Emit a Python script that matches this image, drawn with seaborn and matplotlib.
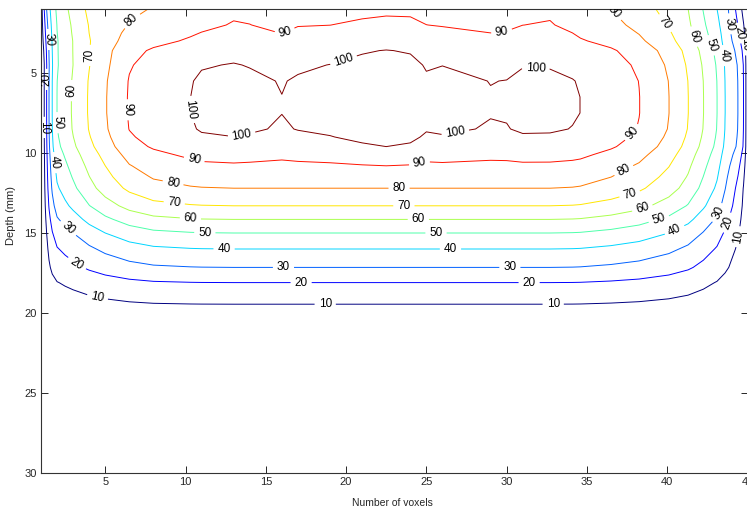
import numpy as np
import matplotlib
matplotlib.use("Agg")
import matplotlib.pyplot as plt
import seaborn as sns

voxels = [1.0, 1.2, 1.35, 1.5, 1.7, 2.0, 2.5, 3.0, 4.0, 5.0, 6.5, 8.0,
          10.3, 11.0, 13.0, 14.0, 16.0, 17.0, 19.0, 21.0, 22.5, 24.0, 25.0,
          26.0, 29.0, 30.0, 31.0, 32.7, 34.1, 34.6, 36.5, 38.25, 40.1, 41.3,
          42.25, 43.1, 43.6, 44.4, 44.75, 44.9, 45.0]

# relative lateral profile at the surface (1 mm)
lateral_surface = [0.05, 0.23, 0.345, 0.43, 0.515, 0.595, 0.668, 0.727, 0.83, 0.87, 0.90, 0.925,
                   0.96, 0.975, 1.015, 1.01, 0.979, 1.005, 1.005, 1.015, 1.02, 1.02, 1.01,
                   1.0, 0.981, 0.989, 1.007, 1.018, 0.978, 0.95, 0.92, 0.853, 0.767, 0.69,
                   0.57, 0.46, 0.40, 0.19, 0.08, 0.05, 0.03]

# relative lateral profile in the high dose region (4 - 9.6 mm)
lateral_deep = [0.03, 0.095, 0.19, 0.286, 0.382, 0.477, 0.53, 0.583, 0.676, 0.755, 0.866, 0.91,
                0.952, 0.966, 0.974, 0.968, 0.953, 0.962, 0.972, 0.99, 1.0, 0.99, 0.965,
                0.97, 0.955, 0.957, 0.968, 0.967, 0.958, 0.952, 0.91, 0.859, 0.763, 0.668,
                0.573, 0.477, 0.382, 0.286, 0.191, 0.095, 0.04]

# relative lateral profile in the fall-off region (12 mm and deeper)
lateral_tail = [0.03, 0.10, 0.20, 0.295, 0.39, 0.485, 0.545, 0.60, 0.71, 0.80, 0.90, 0.96,
                0.99, 0.995, 1.0, 1.0, 1.0, 1.0, 1.0, 1.0, 1.0, 1.0, 1.0,
                1.0, 1.0, 1.0, 1.0, 1.0, 0.995, 0.99, 0.95, 0.895, 0.80, 0.705,
                0.59, 0.48, 0.38, 0.22, 0.12, 0.06, 0.03]

# depth dose along the central axis
depth_mm = [1, 1.5, 2, 2.5, 3, 3.6, 4.5, 5.5, 6.5, 7.5, 8.5, 9, 9.6,
            10.1, 10.8, 11.5, 12.2, 13.3, 14.15, 15.0, 16.0, 17.15, 18.1, 19.45,
            20.5, 22, 25, 30]
center_dose = [87, 88.7, 90.5, 93, 95.5, 100, 103, 104.6, 105, 105, 104.2, 102.6, 100,
               95.5, 90, 85, 80, 70, 60, 50, 40, 30, 20, 10,
               6, 3, 1, 0.3]

levels = [10, 20, 30, 40, 50, 60, 70, 80, 90, 100]

# (level, voxel, depth) where each inline label sits
label_spots = [
    (80, 6.85, 2.0), (90, 16.2, 2.5), (90, 29.7, 2.5), (80, 36.8, 1.1),
    (70, 40.0, 1.8), (60, 41.6, 2.75), (50, 42.8, 3.25), (40, 43.7, 3.9),
    (30, 44.2, 1.9), (20, 44.5, 2.5), (10, 44.7, 3.25),
    (30, 1.56, 2.9), (20, 1.25, 5.4), (10, 1.19, 8.4), (40, 1.87, 10.6),
    (50, 2.18, 8.1), (60, 2.8, 6.1), (70, 4.17, 3.9), (90, 6.5, 7.3),
    (100, 10.4, 7.3), (100, 13.5, 8.9), (100, 20.0, 4.7), (100, 31.8, 4.9), (100, 26.8, 8.7),
    (90, 10.5, 10.6), (90, 24.6, 10.8), (90, 37.8, 8.7),
    (80, 9.2, 12.0), (80, 23.3, 12.2), (80, 37.3, 11.1),
    (70, 9.3, 13.1), (70, 23.6, 13.3), (70, 37.7, 12.7),
    (60, 10.3, 14.2), (60, 24.5, 14.1), (60, 38.5, 13.6),
    (50, 11.2, 15.25), (50, 25.6, 15.0), (50, 39.5, 14.2),
    (40, 12.4, 16.2), (40, 26.5, 16.0), (40, 40.5, 14.9),
    (30, 2.7, 14.7), (30, 16.1, 17.1), (30, 30.2, 17.1), (30, 42.8, 13.6),
    (20, 3.3, 16.8), (20, 17.2, 18.1), (20, 31.4, 18.1), (20, 43.6, 14.3),
    (10, 4.5, 19.1), (10, 18.7, 19.4), (10, 32.9, 19.6), (10, 44.2, 15.2),
]

sns.set_style("ticks")
plt.rcParams['font.family'] = ['Liberation Sans', 'DejaVu Sans']

# dose grid: central-axis depth dose times a lateral profile that goes
# surface -> high dose shape over 1-4 mm and high dose -> fall-off over 9.6-12 mm
x = np.array(voxels)
d = np.array(depth_mm, dtype=float)
w1 = np.clip((d - 1.0) / 3.0, 0, 1)[:, None]
w2 = np.clip((d - 9.6) / 2.4, 0, 1)[:, None]
profile = (np.array(lateral_surface)[None, :] * (1 - w1)
           + np.array(lateral_deep)[None, :] * w1 * (1 - w2)
           + np.array(lateral_tail)[None, :] * w2)
dose = np.array(center_dose)[:, None] * profile

fig = plt.figure(figsize=(7.47, 5.12), dpi=100)
ax = fig.add_axes([41 / 747, 39 / 512, 706.5 / 747, 464 / 512])
ax.set_xlim(1, 45)
ax.set_ylim(30, 1)
ax.set_xticks(range(5, 46, 5))
ax.set_yticks(range(5, 31, 5))

jet = plt.get_cmap('jet')
for i, lev in enumerate(levels):
    cs = ax.contour(x, d, dose, levels=[lev], colors=[jet(i / (len(levels) - 1))],
                    linewidths=0.7)
    pts = [(px, py) for (lv, px, py) in label_spots if lv == lev]
    ax.clabel(cs, manual=pts, fontsize=8.5, inline=True,
              inline_spacing=4, fmt='%d', colors='black')

ax.set_xlim(1, 45)
ax.set_ylim(30, 1)

ax.tick_params(direction='in', length=5, width=0.7, top=True, right=True,
               labelsize=8, pad=3, colors='#262626')
for s in ax.spines.values():
    s.set_color('#333333')
    s.set_linewidth(0.8)

ax.set_xlabel('Number of voxels', fontsize=7.5)
ax.set_ylabel('Depth (mm)', fontsize=8)
ax.xaxis.set_label_coords(0.498, -0.054)
ax.yaxis.set_label_coords(-0.036, 0.556)

fig.savefig('out.png', dpi=100)
